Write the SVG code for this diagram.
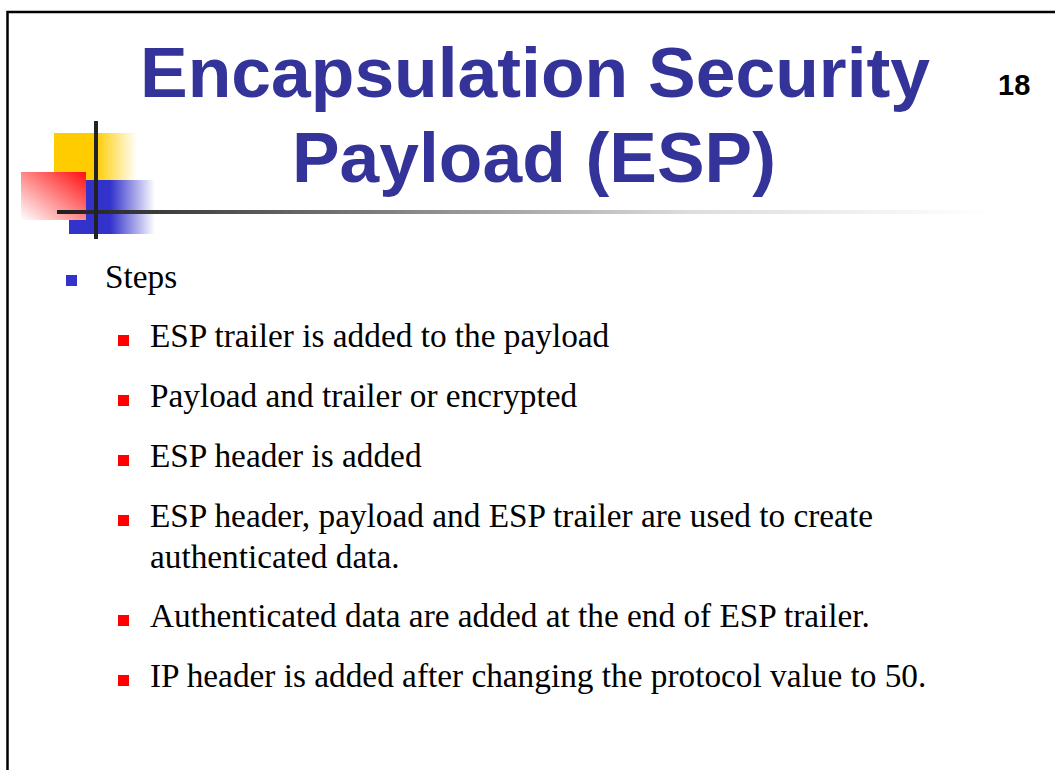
<svg xmlns="http://www.w3.org/2000/svg" width="1055" height="770" viewBox="0 0 1055 770">
  <defs>
    <linearGradient id="gYellow" x1="0" y1="0" x2="1" y2="0">
      <stop offset="0" stop-color="#FFCC00"/>
      <stop offset="0.5" stop-color="#FFCC00"/>
      <stop offset="1" stop-color="#FFFFFF"/>
    </linearGradient>
    <linearGradient id="gBlue" x1="0" y1="0" x2="1" y2="0">
      <stop offset="0" stop-color="#3333CC"/>
      <stop offset="0.48" stop-color="#3333CC"/>
      <stop offset="1" stop-color="#FFFFFF"/>
    </linearGradient>
    <linearGradient id="gRed" x1="1" y1="0" x2="0" y2="1">
      <stop offset="0" stop-color="#FF1010"/>
      <stop offset="1" stop-color="#FFFFFF"/>
    </linearGradient>
    <linearGradient id="gRule" gradientUnits="userSpaceOnUse" x1="57" y1="0" x2="990" y2="0">
      <stop offset="0" stop-color="#1F1F1F"/>
      <stop offset="0.2" stop-color="#555555"/>
      <stop offset="0.68" stop-color="#DDDDDD"/>
      <stop offset="1" stop-color="#FFFFFF"/>
    </linearGradient>
  </defs>
  <style>
    .title { font-family: "Liberation Sans", Arial, sans-serif; font-weight: bold; font-size: 70px; fill: #333399; }
    .num { font-family: "Liberation Sans", Arial, sans-serif; font-weight: bold; font-size: 29px; fill: #000000; }
    .body { font-family: "Liberation Serif", "Times New Roman", serif; font-size: 33.3px; fill: #000000; }
    .b1 { fill: #3333CC; }
    .b2 { fill: #FF0000; }
  </style>

  <rect width="1055" height="770" fill="#FFFFFF"/>

  <!-- slide frame -->
  <path d="M7.5 770 V12 H1055" fill="none" stroke="#000000" stroke-width="2.5"/>

  <!-- corner ornament -->
  <g id="ornament">
    <rect x="54" y="133" width="83" height="47" fill="url(#gYellow)"/>
    <rect x="69" y="180" width="86" height="54" fill="url(#gBlue)"/>
    <rect x="21" y="172" width="65" height="48" fill="url(#gRed)"/>
    <rect x="57" y="210" width="933" height="4" fill="url(#gRule)"/>
    <rect x="94" y="121" width="4" height="118" fill="#222222"/>
  </g>

  <!-- heading -->
  <g id="title">
    <text class="title" x="140" y="97" textLength="790" lengthAdjust="spacingAndGlyphs">Encapsulation Security</text>
    <text class="title" x="292" y="182" textLength="484" lengthAdjust="spacingAndGlyphs">Payload (ESP)</text>
  </g>

  <g id="page-number">
    <text class="num" x="998" y="95">18</text>
  </g>

  <!-- bullet list -->
  <g id="steps">
    <rect class="b1" x="66" y="275" width="11" height="11"/>
    <text class="body" x="105" y="288">Steps</text>
  </g>
  <g id="step-1">
    <rect class="b2" x="118" y="335" width="11" height="11"/>
    <text class="body" x="150" y="347">ESP trailer is added to the payload</text>
  </g>
  <g id="step-2">
    <rect class="b2" x="118" y="395" width="11" height="11"/>
    <text class="body" x="150" y="407">Payload and trailer or encrypted</text>
  </g>
  <g id="step-3">
    <rect class="b2" x="118" y="455" width="11" height="11"/>
    <text class="body" x="150" y="467">ESP header is added</text>
  </g>
  <g id="step-4">
    <rect class="b2" x="118" y="515" width="11" height="11"/>
    <text class="body" x="150" y="527">ESP header, payload and ESP trailer are used to create</text>
    <text class="body" x="150" y="568">authenticated data.</text>
  </g>
  <g id="step-5">
    <rect class="b2" x="118" y="615" width="11" height="11"/>
    <text class="body" x="150" y="627">Authenticated data are added at the end of ESP trailer.</text>
  </g>
  <g id="step-6">
    <rect class="b2" x="118" y="675" width="11" height="11"/>
    <text class="body" x="150" y="687">IP header is added after changing the protocol value to 50.</text>
  </g>
</svg>
